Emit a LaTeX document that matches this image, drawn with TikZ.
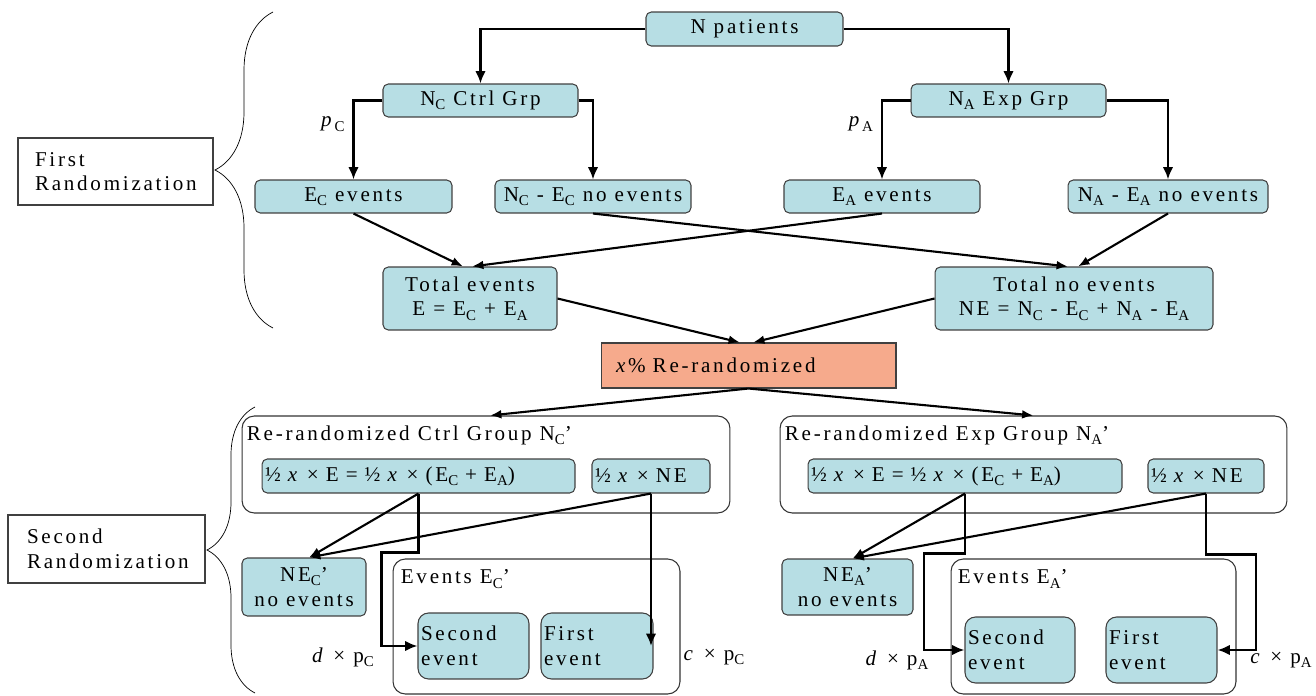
\documentclass[tikz,border=0pt]{standalone}
\usepackage{fontspec}
\setmainfont{Liberation Serif}[LetterSpace=13]
\usepackage{xcolor}
\usepackage{tikz}
\usetikzlibrary{arrows.meta,decorations.pathreplacing,positioning}
\definecolor{boxcyan}{RGB}{183,222,228}
\definecolor{boxsalmon}{RGB}{246,170,140}
\newcommand{\lowsub}[1]{\raisebox{-0.45ex}{\fontsize{8.5}{9}\selectfont #1}}

\begin{document}
\begin{tikzpicture}[x=0.02cm, y=-0.02cm]
			\tikzstyle{every node}=[font=\fontsize{12}{14}\selectfont];
			\tikzstyle{cell}=[draw=black!75, fill=boxcyan, rounded corners=3pt, line width=0.6pt, inner sep=1pt, align=center, minimum height=0.66cm];
			\tikzstyle{plain}=[draw=black!75, line width=0.6pt, align=left];
			\tikzstyle{group}=[draw=black!80, rounded corners=7pt, line width=0.6pt];
			\tikzstyle{elbow}=[-{Latex[length=7pt,width=6pt]}, line width=1.6pt];
			\tikzstyle{flow}=[-{Latex[length=6.5pt,width=5pt]}, line width=1.2pt];
			\useasboundingbox (0,0) rectangle (1316,696);
			
			%First randomization
			\node[cell, minimum width=3.94cm, minimum height=0.68cm] (np) at (744.5,29) {N patients};
			\node[cell, minimum width=3.9cm] (nc) at (480.5,100.5) {N\lowsub{C} Ctrl Grp};
			\node[cell, minimum width=3.9cm] (na) at (1008.5,100.5) {N\lowsub{A} Exp Grp};
			\node[cell, minimum width=3.94cm] (ec) at (353.5,196.5) {E\lowsub{C} events};
			\node[cell, minimum width=3.92cm] (nec) at (593,196.5) {N\lowsub{C} - E\lowsub{C} no events};
			\node[cell, minimum width=3.92cm] (ea) at (882,196.5) {E\lowsub{A} events};
			\node[cell, minimum width=4cm] (nea) at (1168,196.5) {N\lowsub{A} - E\lowsub{A} no events};
			\node[cell, minimum width=3.48cm, minimum height=1.26cm] (te) at (470,298.5) {Total events\\E = E\lowsub{C} + E\lowsub{A}};
			\node[cell, minimum width=5.56cm, minimum height=1.26cm] (tne) at (1074,298.5) {Total no events\\NE = N\lowsub{C} - E\lowsub{C} + N\lowsub{A} - E\lowsub{A}};
			\node[plain, fill=boxsalmon, minimum height=0.9cm, text width=5.3cm, inner xsep=0.3cm] (xr) at (748.5,365.5) {\textit{x}\% Re-randomized};
			
			%Brace labels
			\node[plain, minimum height=1.34cm, text width=3.22cm, inner xsep=0.34cm] (fr) at (115.5,171.5) {First\\Randomization};
			\node[plain, minimum height=1.36cm, text width=3.18cm, inner xsep=0.38cm] (sr) at (106.5,549) {Second\\Randomization};
			\draw[decorate, decoration={brace, amplitude=1.16cm}, thin] (273,328) -- (273,12);
			\draw[decorate, decoration={brace, amplitude=0.96cm}, thin] (255,693) -- (255,407);
			
			%Second randomization, control side
			\node[group, minimum width=9.76cm, minimum height=1.94cm] (ctrl) at (486,464.5) {};
			\node[anchor=north west, inner sep=0pt] (ctrlt) at ([xshift=0.1cm, yshift=-0.2cm]ctrl.north west) {Re-randomized Ctrl Group N\lowsub{C}'};
			\node[cell, minimum height=0.68cm, text width=6.14cm, inner xsep=0.06cm, align=left] (hcE) at (418.5,476) {½ \textit{x} × E = ½ \textit{x} × (E\lowsub{C} + E\lowsub{A})};
			\node[cell, minimum height=0.68cm, text width=2.24cm, inner xsep=0.06cm, align=left] (hcN) at (651,476) {½ \textit{x} × NE};
			\node[cell, minimum width=2.48cm, minimum height=1.16cm] (nec2) at (304,587) {NE\lowsub{C}'\\no events};
			\node[group, minimum width=5.74cm, minimum height=2.7cm] (evc) at (536.5,626.5) {};
			\node[anchor=north west, inner sep=0pt] (evct) at ([xshift=0.16cm, yshift=-0.22cm]evc.north west) {Events E\lowsub{C}'};
			\node[cell, rounded corners=6pt, minimum height=1.32cm, text width=2.1cm, inner xsep=0.06cm, align=left] (sec) at (473.5,646) {Second\\event};
			\node[cell, rounded corners=6pt, minimum height=1.32cm, text width=2.12cm, inner xsep=0.06cm, align=left] (fec) at (597,646) {First\\event};
			
			%Second randomization, experimental side
			\node[group, minimum width=10.14cm, minimum height=1.94cm] (exp) at (1033.5,464.5) {};
			\node[anchor=north west, inner sep=0pt] (expt) at ([xshift=0.1cm, yshift=-0.2cm]exp.north west) {Re-randomized Exp Group N\lowsub{A}'};
			\node[cell, minimum height=0.68cm, text width=6.16cm, inner xsep=0.06cm, align=left] (haE) at (965,476) {½ \textit{x} × E = ½ \textit{x} × (E\lowsub{C} + E\lowsub{A})};
			\node[cell, minimum height=0.68cm, text width=2.2cm, inner xsep=0.06cm, align=left] (haN) at (1206,476) {½ \textit{x} × NE};
			\node[cell, minimum width=2.62cm, minimum height=1.12cm] (nea2) at (847.5,587) {NE\lowsub{A}'\\no events};
			\node[group, minimum width=5.7cm, minimum height=2.7cm] (eva) at (1093.5,626.5) {};
			\node[anchor=north west, inner sep=0pt] (evat) at ([xshift=0.14cm, yshift=-0.22cm]eva.north west) {Events E\lowsub{A}'};
			\node[cell, rounded corners=6pt, minimum height=1.32cm, text width=2.08cm, inner xsep=0.06cm, align=left] (sea) at (1020,650) {Second\\event};
			\node[cell, rounded corners=6pt, minimum height=1.32cm, text width=2.1cm, inner xsep=0.06cm, align=left] (fea) at (1161.5,650) {First\\event};
			
			%Multipliers
			\node (dc) at (343,657) {\textit{d} × p\lowsub{C}};
			\node (cc) at (714,657) {\textit{c} × p\lowsub{C}};
			\node (da) at (897,660) {\textit{d} × p\lowsub{A}};
			\node (ca) at (1281,660) {\textit{c} × p\lowsub{A}};
			
			%Lines
			\draw[elbow] (np.west) -| (nc.north);
			\draw[elbow] (np.east) -| (na.north);
			\draw[elbow] (nc.west) -| node[pos=0.65, left=1pt] {\textit{p}\lowsub{C}} (ec.north);
			\draw[elbow] (nc.east) -| (nec.north);
			\draw[elbow] (na.west) -| node[pos=0.65, left=1pt] {\textit{p}\lowsub{A}} (ea.north);
			\draw[elbow] (na.east) -| (nea.north);
			
			\draw[flow] (ec.south) -- ([xshift=-0.14cm]te.north);
			\draw[flow] (ea.south) -- ([xshift=0.04cm]te.north);
			\draw[flow] (nec.south) -- ([xshift=-0.12cm]tne.north);
			\draw[flow] (nea.south) -- ([xshift=0.08cm]tne.north);
			\draw[flow] (te.east) -- ([xshift=-0.17cm]xr.north);
			\draw[flow] (tne.west) -- ([xshift=0.09cm]xr.north);
			\draw[flow] (xr.south) -- ([xshift=0.08cm]ctrl.north);
			\draw[flow] (xr.south) -- (exp.north);
			
			\draw[flow] (hcE.south) -- ([xshift=0.1cm]nec2.north);
			\draw[flow] (hcN.south) -- ([xshift=0.1cm]nec2.north);
			\draw[elbow] (hcE.south) -- ++(0,59) -- ++(-37,0) |- (sec.west);
			\draw[elbow] (hcN.south) -- (hcN.south |- fec.east);
			
			\draw[flow] (haE.south) -- ([xshift=0.1cm]nea2.north);
			\draw[flow] (haN.south) -- ([xshift=0.1cm]nea2.north);
			\draw[elbow] (haE.south) -- ++(0,60) -- ++(-41,0) |- (sea.west);
			\draw[elbow] (haN.south) -- ++(0,61) -- ++(50,0) |- (fea.east);
\end{tikzpicture}
\end{document}
